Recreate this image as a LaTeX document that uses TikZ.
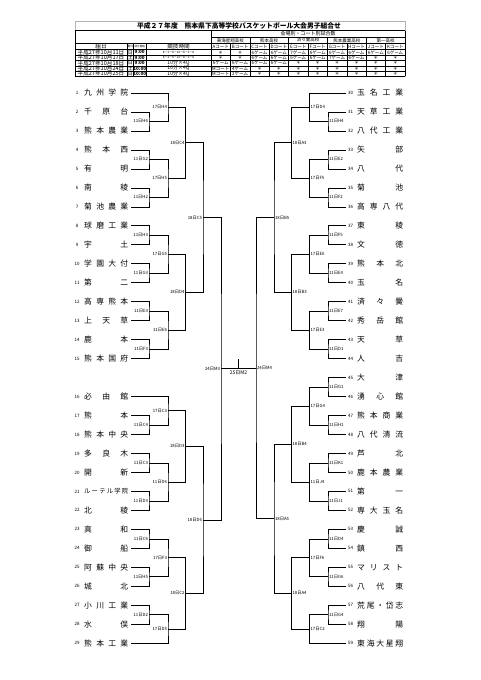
\documentclass[tikz,border=0pt]{standalone}
\usepackage{fontspec}
\setmainfont{Noto Sans CJK JP}
\usetikzlibrary{calc}

\tikzset{
  team/.style={inner sep=0pt, font=\fontsize{7.8}{7.8}\selectfont},
  num/.style={inner sep=0pt, font=\fontsize{4.5}{4.5}\selectfont},
  labL/.style={inner sep=0.8pt, anchor=east, font=\fontsize{4.3}{4.3}\selectfont},
  labR/.style={inner sep=0.8pt, anchor=west, font=\fontsize{4.3}{4.3}\selectfont},
  bline/.style={line width=0.6pt},
  tline/.style={line width=0.4pt},
  cell/.style={inner sep=0pt, font=\fontsize{4.5}{4.5}\selectfont},
}

% 对阵: 名称, 上方, 下方, 轮次x, 标签样式, 标签
\newcommand\bout[6]{%
  \path ($(#2)!.5!(#3)$) coordinate (#1-mid);
  \coordinate (#1) at (#4 |- #1-mid);
  \draw[bline] (#2) -| (#1) |- (#3);
  \node[#5] at (#1) {#6};
}

\begin{document}
\begin{tikzpicture}[x=1pt, y=-1pt]
        \fill[white] (0,0) rectangle (480,680);
        \useasboundingbox (0,0) rectangle (480,680);
        % 各轮的x坐标
        \coordinate (L1) at (149,0);
        \coordinate (L2) at (168,0);
        \coordinate (L3) at (185.5,0);
        \coordinate (L4) at (203,0);
        \coordinate (L5) at (221,0);
        \coordinate (R1) at (328,0);
        \coordinate (R2) at (309.5,0);
        \coordinate (R3) at (291.5,0);
        \coordinate (R4) at (274,0);
        \coordinate (R5) at (256,0);

        % 标题
        \draw[gray!60, line width=.3pt] (75,21) rectangle (405,76.3);
        \node[inner sep=0pt, font=\bfseries\fontsize{6.8}{6.8}\selectfont] (title) at (239,25.6)
            {平成２７年度　熊本県下高等学校バスケットボール大会男子組合せ};

        % 表格
        \draw[tline] (75,30.5) -- (405,30.5);
        \draw[tline] (211,37) -- (405,37);
        \foreach \y in {43.5,49.6,55,60.4,65.7,71,76.3} \draw[tline] (75,\y) -- (405,\y);
        \foreach \x in {75,211,405} \draw[tline] (\x,30.5) -- (\x,76.3);
        \foreach \x in {127,133.5,146} \draw[tline] (\x,43.5) -- (\x,76.3);
        \foreach \x in {249.8,288.6,327.4,366.2} \draw[tline] (\x,37) -- (\x,76.3);
        \foreach \x in {230.4,269.2,308,346.8,385.6} \draw[tline] (\x,43.5) -- (\x,76.3);

        \node[cell, font=\fontsize{5}{5}\selectfont] (venue) at (308,33.8) {会場別・コート別試合数};
        \foreach \s [count=\i from 0] in {東海星翔高校,熊本高校,済々黌高校,熊本農業高校,第一高校}
            \node[cell] (school\i) at (230.4+38.8*\i,40.3) {\s};
        \node[cell, font=\fontsize{5.6}{5.6}\selectfont] (hdate) at (101,46.6) {組日};
        \node[cell, font=\fontsize{2.8}{2.8}\selectfont] (hwk) at (130.25,46.6) {曜日};
        \node[cell, font=\fontsize{2.6}{2.6}\selectfont] (htime) at (139.75,46.6) {試合開始};
        \node[cell, font=\fontsize{5.6}{5.6}\selectfont] (hrule) at (178.5,46.6) {競技時間};
        \foreach \c [count=\i from 0] in {A,B,C,D,E,F,G,H,J,K}
            \node[cell] (court\c) at (220.7+19.4*\i,46.6) {\c コート};

        \foreach \y/\dy/\wk/\tm in {52.3/11/日/9:00, 57.7/17/土/9:00, 63.05/18/日/9:00, 68.35/24/土/10:00, 73.65/25/日/10:00} {
            \node[cell, font=\fontsize{5.6}{5.6}\selectfont] at (101,\y) {平成27年10月\dy 日};
            \node[cell, font=\fontsize{5}{5}\selectfont] at (130.25,\y) {\wk};
            \node[cell, font=\bfseries\fontsize{4.6}{4.6}\selectfont] at (139.75,\y) {\tm};
        }
        \foreach \y in {52.3,57.7}
            \node[cell, font=\fontsize{3}{3}\selectfont] at (178.5,\y) {8－2－8－10－8－2－8};
        \foreach \y in {63.05,68.35,73.65}
            \node[cell, font=\fontsize{5}{5}\selectfont] at (178.5,\y) {10分×4Q};

        \foreach \c [count=\i from 0] in {＊,＊,6ゲーム,6ゲーム,7ゲーム,6ゲーム,6ゲーム,6ゲーム,6ゲーム,6ゲーム}
            \node[cell] at (220.7+19.4*\i,52.3) {\c};
        \foreach \c [count=\i from 0] in {＊,＊,6ゲーム,6ゲーム,6ゲーム,6ゲーム,7ゲーム,6ゲーム,＊,＊}
            \node[cell] at (220.7+19.4*\i,57.7) {\c};
        \foreach \c [count=\i from 0] in {6ゲーム,6ゲーム,6ゲーム,6ゲーム,＊,＊,＊,＊,＊,＊}
            \node[cell] at (220.7+19.4*\i,63.05) {\c};
        \foreach \c [count=\i from 0] in {Mコート,4ゲーム,＊,＊,＊,＊,＊,＊,＊,＊}
            \node[cell] at (220.7+19.4*\i,68.35) {\c};
        \foreach \c [count=\i from 0] in {Mコート,2ゲーム,＊,＊,＊,＊,＊,＊,＊,＊}
            \node[cell] at (220.7+19.4*\i,73.65) {\c};

        % 左半区 学校
        \foreach \n/\s/\nm in {1/0/九\hfill 州\hfill 学\hfill 院, 2/1/千\hfill 原\hfill 台,
            3/2/熊\hfill 本\hfill 農\hfill 業, 4/3/熊\hfill 本\hfill 西, 5/4/有\hfill 明,
            6/5/南\hfill 稜, 7/6/菊\hfill 池\hfill 農\hfill 業, 8/7/球\hfill 磨\hfill 工\hfill 業,
            9/8/宇\hfill 土, 10/9/学\hfill 園\hfill 大\hfill 付, 11/10/第\hfill 二,
            12/11/高\hfill 専\hfill 熊\hfill 本, 13/12/上\hfill 天\hfill 草, 14/13/鹿\hfill 本,
            15/14/熊\hfill 本\hfill 国\hfill 府, 16/16/必\hfill 由\hfill 館, 17/17/熊\hfill 本,
            18/18/熊\hfill 本\hfill 中\hfill 央, 19/19/多\hfill 良\hfill 木, 20/20/開\hfill 新,
            21/21/\fontsize{6.3}{6.3}\selectfont ル\hfill ー\hfill テ\hfill ル\hfill 学\hfill 院,
            22/22/北\hfill 稜, 23/23/真\hfill 和, 24/24/御\hfill 船,
            25/25/阿\hfill 蘇\hfill 中\hfill 央, 26/26/城\hfill 北,
            27/27/小\hfill 川\hfill 工\hfill 業, 28/28/水\hfill 俣, 29/29/熊\hfill 本\hfill 工\hfill 業} {
            \pgfmathsetmacro\yy{93+18.97*\s}
            \node[num] (n\n) at (77,\yy) {\n};
            \node[team, anchor=west] (t\n) at (84,\yy) {\makebox[44pt]{\nm}};
            \coordinate (e\n) at (131,\yy);
        }

        % 右半区 学校
        \foreach \n/\s/\nm in {30/0/玉\hfill 名\hfill 工\hfill 業, 31/1/天\hfill 草\hfill 工\hfill 業,
            32/2/八\hfill 代\hfill 工\hfill 業, 33/3/矢\hfill 部, 34/4/八\hfill 代, 35/5/菊\hfill 池,
            36/6/高\hfill 専\hfill 八\hfill 代, 37/7/東\hfill 稜, 38/8/文\hfill 徳,
            39/9/熊\hfill 本\hfill 北, 40/10/玉\hfill 名, 41/11/済\hfill 々\hfill 黌,
            42/12/秀\hfill 岳\hfill 館, 43/13/天\hfill 草, 44/14/人\hfill 吉, 45/15/大\hfill 津,
            46/16/湧\hfill 心\hfill 館, 47/17/熊\hfill 本\hfill 商\hfill 業,
            48/18/八\hfill 代\hfill 清\hfill 流, 49/19/芦\hfill 北, 50/20/鹿\hfill 本\hfill 農\hfill 業,
            51/21/第\hfill 一, 52/22/専\hfill 大\hfill 玉\hfill 名, 53/23/慶\hfill 誠,
            54/24/鎮\hfill 西, 55/25/マ\hfill リ\hfill ス\hfill ト, 56/26/八\hfill 代\hfill 東,
            57/27/荒\hfill 尾\hfill ・\hfill 岱\hfill 志, 58/28/翔\hfill 陽,
            59/29/東\hfill 海\hfill 大\hfill 星\hfill 翔} {
            \pgfmathsetmacro\yy{93+18.97*\s}
            \node[num] (n\n) at (350.5,\yy) {\n};
            \node[team, anchor=west] (t\n) at (357,\yy) {\makebox[46pt]{\nm}};
            \coordinate (e\n) at (346,\yy);
        }

        % 左半区 对阵
        \bout{d11H6}{e2}{e3}{L1}{labL}{11日H6}
        \bout{d17H4}{e1}{d11H6}{L2}{labL}{17日H4}
        \bout{d11G2}{e4}{e5}{L1}{labL}{11日G2}
        \bout{d11H2}{e6}{e7}{L1}{labL}{11日H2}
        \bout{d17H5}{d11G2}{d11H2}{L2}{labL}{17日H5}
        \bout{d18C4}{d17H4}{d17H5}{L3}{labL}{18日C4}
        \bout{d11H3}{e8}{e9}{L1}{labL}{11日H3}
        \bout{d11G3}{e10}{e11}{L1}{labL}{11日G3}
        \bout{d17G5}{d11H3}{d11G3}{L2}{labL}{17日G5}
        \bout{d11E3}{e12}{e13}{L1}{labL}{11日E3}
        \bout{d11F3}{e14}{e15}{L1}{labL}{11日F3}
        \bout{d11E6}{d11E3}{d11F3}{L2}{labL}{11日E6}
        \bout{d18D4}{d17G5}{d11E6}{L3}{labL}{18日D4}
        \bout{d18C5}{d18C4}{d18D4}{L4}{labL}{18日C5}
        \bout{d11C4}{e17}{e18}{L1}{labL}{11日C4}
        \bout{d17C3}{e16}{d11C4}{L2}{labL}{17日C3}
        \bout{d11C3}{e19}{e20}{L1}{labL}{11日C3}
        \bout{d11D3}{e21}{e22}{L1}{labL}{11日D3}
        \bout{d11D6}{d11C3}{d11D3}{L2}{labL}{11日D6}
        \bout{d18D3}{d17C3}{d11D6}{L3}{labL}{18日D3}
        \bout{d11C6}{e23}{e24}{L1}{labL}{11日C6}
        \bout{d11H5}{e25}{e26}{L1}{labL}{11日H5}
        \bout{d17F3}{d11C6}{d11H5}{L2}{labL}{17日F3}
        \bout{d11D2}{e27}{e28}{L1}{labL}{11日D2}
        \bout{d17D5}{d11D2}{e29}{L2}{labL}{17日D5}
        \bout{d18C2}{d17F3}{d17D5}{L3}{labL}{18日C2}
        \bout{d18D6}{d18D3}{d18C2}{L4}{labL}{18日D6}
        \bout{d24M3}{d18C5}{d18D6}{L5}{labL}{24日M3}

        % 右半区 对阵
        \bout{r11H4}{e31}{e32}{R1}{labR}{11日H4}
        \bout{r17D4}{e30}{r11H4}{R2}{labR}{17日D4}
        \bout{r11E2}{e33}{e34}{R1}{labR}{11日E2}
        \bout{r11F2}{e35}{e36}{R1}{labR}{11日F2}
        \bout{r17F5}{r11E2}{r11F2}{R2}{labR}{17日F5}
        \bout{r18A3}{r17D4}{r17F5}{R3}{labR}{18日A3}
        \bout{r11F5}{e37}{e38}{R1}{labR}{11日F5}
        \bout{r11E4}{e39}{e40}{R1}{labR}{11日E4}
        \bout{r17E6}{r11F5}{r11E4}{R2}{labR}{17日E6}
        \bout{r11E7}{e41}{e42}{R1}{labR}{11日E7}
        \bout{r11D1}{e43}{e44}{R1}{labR}{11日D1}
        \bout{r17E3}{r11E7}{r11D1}{R2}{labR}{17日E3}
        \bout{r18B3}{r17E6}{r17E3}{R3}{labR}{18日B3}
        \bout{r18B5}{r18A3}{r18B3}{R4}{labR}{18日B5}
        \bout{r11G1}{e45}{e46}{R1}{labR}{11日G1}
        \bout{r11H1}{e47}{e48}{R1}{labR}{11日H1}
        \bout{r17G4}{r11G1}{r11H1}{R2}{labR}{17日G4}
        \bout{r11K1}{e49}{e50}{R1}{labR}{11日K1}
        \bout{r11J1}{e51}{e52}{R1}{labR}{11日J1}
        \bout{r11J4}{r11K1}{r11J1}{R2}{labR}{11日J4}
        \bout{r18B4}{r17G4}{r11J4}{R3}{labR}{18日B4}
        \bout{r11D4}{e53}{e54}{R1}{labR}{11日D4}
        \bout{r11G6}{e55}{e56}{R1}{labR}{11日G6}
        \bout{r17F6}{r11D4}{r11G6}{R2}{labR}{17日F6}
        \bout{r11G4}{e57}{e58}{R1}{labR}{11日G4}
        \bout{r17C2}{r11G4}{e59}{R2}{labR}{17日C2}
        \bout{r18A4}{r17F6}{r17C2}{R3}{labR}{18日A4}
        \bout{r18A5}{r18B4}{r18A4}{R4}{labR}{18日A5}
        \bout{d24M4}{r18B5}{r18A5}{R5}{labR}{24日M4}

        % 决赛
        \draw[bline] (d24M3) -- (d24M3 -| d24M4) coordinate[pos=.5] (d25M2);
        \draw[bline] (d25M2) -- ++(0,-10);
        \node[inner sep=1.5pt, anchor=north, font=\fontsize{5}{5}\selectfont] (final) at (d25M2) {25日M2};
    \end{tikzpicture}
\end{document}
